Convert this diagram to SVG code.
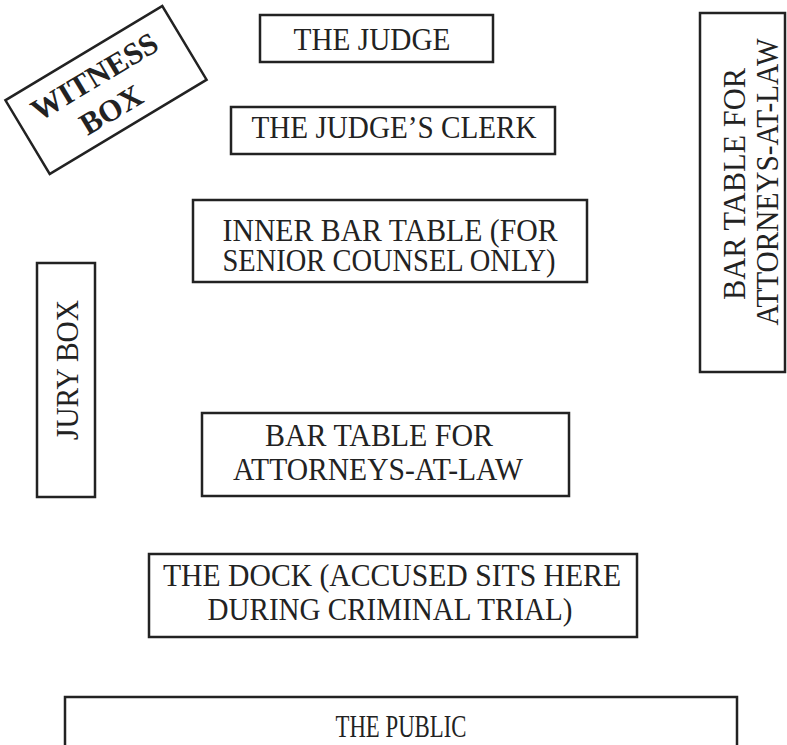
<svg xmlns="http://www.w3.org/2000/svg" width="787" height="745" viewBox="0 0 787 745">
<style>
.box{fill:#fff;stroke:#222;stroke-width:2.5}
.t{font-family:"Liberation Serif","Times New Roman",serif;font-size:32px;fill:#222;text-anchor:middle}
.b{font-weight:bold;font-size:31px}
</style>
<rect width="787" height="745" fill="#fff"/>
<g id="witness-box" transform="translate(106,90) rotate(-31)">
<rect class="box" x="-91.5" y="-43" width="183" height="86"/>
<text class="t b" x="-3" y="-7" textLength="142" lengthAdjust="spacingAndGlyphs">WITNESS</text>
<text class="t b" x="-6" y="30">BOX</text>
</g>
<g id="judge">
<rect class="box" x="260" y="15" width="233" height="47"/>
<text class="t" x="372" y="50" textLength="157" lengthAdjust="spacingAndGlyphs">THE JUDGE</text>
</g>
<g id="clerk">
<rect class="box" x="231" y="107" width="324" height="47"/>
<text class="t" x="394" y="138" textLength="285" lengthAdjust="spacingAndGlyphs">THE JUDGE’S CLERK</text>
</g>
<g id="inner-bar">
<rect class="box" x="193" y="200" width="394" height="82"/>
<text class="t" x="390" y="241" textLength="335" lengthAdjust="spacingAndGlyphs">INNER BAR TABLE (FOR</text>
<text class="t" x="389" y="271" textLength="333" lengthAdjust="spacingAndGlyphs">SENIOR COUNSEL ONLY)</text>
</g>
<g id="jury-box">
<rect class="box" x="37" y="263" width="58" height="234"/>
<text class="t" transform="translate(78,370) rotate(-90)" textLength="140" lengthAdjust="spacingAndGlyphs">JURY BOX</text>
</g>
<g id="bar-table-right">
<rect class="box" x="700" y="13" width="85" height="359"/>
<text class="t" transform="translate(745,184) rotate(-90)" textLength="232" lengthAdjust="spacingAndGlyphs">BAR TABLE FOR</text>
<text class="t" transform="translate(778,182) rotate(-90)" textLength="287" lengthAdjust="spacingAndGlyphs">ATTORNEYS-AT-LAW</text>
</g>
<g id="bar-table">
<rect class="box" x="202" y="413" width="367" height="83"/>
<text class="t" x="379" y="446" textLength="228" lengthAdjust="spacingAndGlyphs">BAR TABLE FOR</text>
<text class="t" x="378" y="480" textLength="290" lengthAdjust="spacingAndGlyphs">ATTORNEYS-AT-LAW</text>
</g>
<g id="dock">
<rect class="box" x="149" y="554" width="488" height="83"/>
<text class="t" x="392" y="586" textLength="458" lengthAdjust="spacingAndGlyphs">THE DOCK (ACCUSED SITS HERE</text>
<text class="t" x="390" y="620" textLength="365" lengthAdjust="spacingAndGlyphs">DURING CRIMINAL TRIAL)</text>
</g>
<g id="public">
<rect class="box" x="65" y="697" width="672" height="60"/>
<text class="t" x="401" y="737" textLength="131" lengthAdjust="spacingAndGlyphs">THE PUBLIC</text>
</g>
<g id="connectors"/>
</svg>
